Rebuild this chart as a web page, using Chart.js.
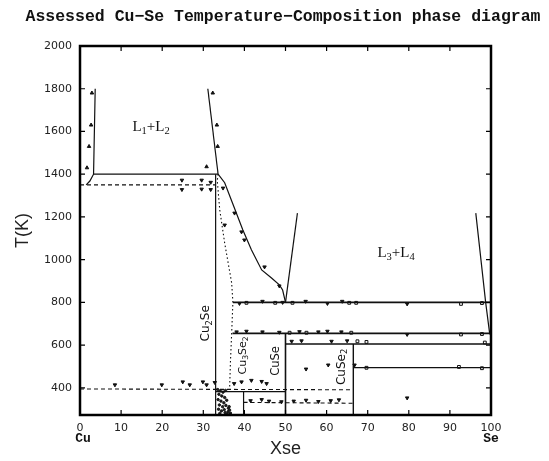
<!DOCTYPE html>
<html lang="en">
<head>
<meta charset="UTF-8">
<title>Assessed Cu-Se phase diagram</title>
<script src="https://cdn.jsdelivr.net/npm/chart.js"></script>
<style>
  html, body { margin: 0; padding: 0; background: #fff; }
</style>
</head>
<body>
<canvas id="chart" width="549" height="461"></canvas>
<script>
// axis ticks
const xTicks = [0, 10, 20, 30, 40, 50, 60, 70, 80, 90, 100];
const yTicks = [400, 600, 800, 1000, 1200, 1400, 1600, 1800, 2000];

// solid phase boundaries, [Xse (at.%), T (K)]
const l1Boundary = [[3.7, 1800], [3.3, 1400], [2.4, 1368], [1.5, 1350]];
const l2Boundary = [[31.1, 1800], [33.6, 1400]];
const monotectic = [[3.3, 1400], [33.6, 1400]];
const cu2seLine = [[33.0, 1400], [33.0, 273]];
const liquidus = [[33.6, 1400], [35.2, 1360], [37.1, 1265], [39.6, 1140], [41.7, 1046],
  [44.2, 952], [46.6, 914], [48.5, 882], [49.3, 858], [50.0, 800]];
const l3Boundary = [[50.0, 800], [52.9, 1218]];
const l4Boundary = [[96.3, 1218], [98.7, 800], [99.7, 650]];
const line800 = [[37.2, 800], [100, 800]];
const line655 = [[37.1, 655], [100, 655]];
const line605 = [[50, 605], [100, 605]];
const cuseLine = [[50, 655], [50, 273]];
const cuse2Line = [[66.5, 605], [66.5, 273]];
const line495 = [[66.5, 495], [100, 495]];
const line382 = [[33, 382], [50, 382]];
const cu3se2Line = [[39.8, 382], [39.8, 273]];

// dashed / dotted boundaries
const dashed1350 = [[0, 1350], [33, 1350]];
const dashed393 = [[0, 395], [66.5, 391]];
const dashed330 = [[39.8, 332], [66.5, 328]];
const dottedBoundary = [[33.6, 1400], [33.4, 1370], [34.0, 1233], [35.2, 1078], [36.9, 891],
  [37.2, 800], [36.9, 655], [36.6, 520], [36.4, 395]];

// experimental points
const upPoints = [[2.9, 1780], [2.7, 1630], [2.2, 1530], [1.7, 1430],
  [32.3, 1780], [33.3, 1630], [33.5, 1530], [30.8, 1435]];
const downPoints = [
  [24.8, 1372], [24.8, 1328], [29.6, 1372], [29.6, 1330], [31.8, 1362], [31.8, 1328],
  [34.8, 1335], [35.2, 1162], [37.6, 1218], [39.3, 1130], [40.0, 1092], [44.9, 966], [48.5, 877],
  [38.8, 795], [44.4, 805], [49.3, 800], [54.9, 805], [60.2, 795], [63.8, 805], [79.6, 793],
  [38.1, 662], [40.5, 665], [44.4, 662], [48.5, 660], [53.4, 663], [58, 662], [60.2, 665], [63.6, 662], [79.6, 650],
  [51.5, 618], [53.9, 620], [61.2, 618], [65, 620],
  [55, 488], [60.4, 507], [66.8, 507], [79.6, 353],
  [8.5, 414], [19.9, 414], [25, 428], [26.7, 414], [29.9, 428], [30.8, 414], [32.8, 425],
  [37.5, 420], [39.3, 428], [41.7, 435], [44.2, 430], [45.4, 420],
  [41.5, 340], [44.2, 345], [46, 338], [49, 335], [52, 338], [55, 342], [58, 336], [61, 340], [63, 344]
];
const squarePoints = [[40.5, 798], [47.5, 798], [51.7, 798], [65.5, 798], [67.2, 798], [92.7, 793], [97.8, 797],
  [51, 658], [55.1, 658], [66, 658], [92.7, 650], [97.8, 652], [67.5, 618], [69.7, 615], [98.5, 612],
  [69.7, 494], [92.2, 498], [97.8, 492]];
const speckle = [[33.5, 392], [34.1, 386], [34.8, 380], [35.4, 388], [33.8, 370], [34.5, 362], [35.2, 355],
  [33.6, 345], [34.3, 338], [35.0, 330], [35.7, 342], [33.9, 320], [34.7, 312], [35.5, 318], [36.1, 305],
  [36.4, 296], [36.0, 288], [36.6, 282], [35.8, 278], [34.4, 292], [33.7, 300], [35.1, 298], [36.3, 312],
  [34.0, 280], [35.3, 284], [36.5, 276]];

const phaseLabels = [
  { parts: [['L'], ['1', 1], ['+L'], ['2', 1]], x: 17.3, y: 1620, rot: 0, size: 15, family: '"Liberation Serif"' },
  { parts: [['L'], ['3', 1], ['+L'], ['4', 1]], x: 76.9, y: 1032, rot: 0, size: 15, family: '"Liberation Serif"' },
  { parts: [['Cu'], ['2', 1], ['Se']], x: 30.6, y: 702, rot: -Math.PI / 2, size: 12, family: '"DejaVu Sans"' },
  { parts: [['Cu'], ['3', 1], ['Se'], ['2', 1]], x: 39.6, y: 552, rot: -Math.PI / 2, size: 11, family: '"DejaVu Sans"' },
  { parts: [['CuSe']], x: 47.6, y: 526, rot: -Math.PI / 2, size: 11.5, family: '"DejaVu Sans"' },
  { parts: [['CuSe'], ['2', 1]], x: 63.6, y: 498, rot: -Math.PI / 2, size: 12, family: '"DejaVu Sans"' }
];

const chartTitle = 'Assessed Cu\u2212Se Temperature\u2212Composition phase diagram';

function toXY(arr) {
  return arr.map(p => ({ x: p[0], y: p[1] }));
}

function lineSet(arr, dash, width) {
  return {
    data: toXY(arr), showLine: true, pointRadius: 0, borderColor: '#111',
    borderWidth: width || 1.2, borderDash: dash || [], fill: false
  };
}

function pointSet(arr, style, rot, radius, bg) {
  return {
    data: toXY(arr), showLine: false, pointStyle: style, rotation: rot,
    pointRadius: radius, backgroundColor: bg, borderColor: '#111', borderWidth: 1
  };
}

function drawRich(ctx, parts, cx, cy, rot, size, family) {
  ctx.save();
  ctx.translate(cx, cy);
  ctx.rotate(rot);
  ctx.fillStyle = '#111';
  ctx.textBaseline = 'middle';
  ctx.textAlign = 'left';
  const sub = size * 0.7;
  let w = 0;
  parts.forEach(p => {
    ctx.font = (p[1] ? sub : size) + 'px ' + family;
    w += ctx.measureText(p[0]).width;
  });
  let pos = -w / 2;
  parts.forEach(p => {
    ctx.font = (p[1] ? sub : size) + 'px ' + family;
    ctx.fillText(p[0], pos, p[1] ? size * 0.3 : 0);
    pos += ctx.measureText(p[0]).width;
  });
  ctx.restore();
}

const framePlugin = {
  id: 'frame',
  afterDatasetsDraw(chart) {
    const { ctx, scales: { x, y } } = chart;
    phaseLabels.forEach(l => {
      drawRich(ctx, l.parts, x.getPixelForValue(l.x), y.getPixelForValue(l.y), l.rot, l.size, l.family);
    });
  },
  afterDraw(chart) {
    const { ctx, chartArea: a, scales: { x, y } } = chart;
    ctx.save();
    ctx.strokeStyle = '#000';
    ctx.lineWidth = 1.2;
    ctx.beginPath();
    xTicks.forEach(v => {
      const px = x.getPixelForValue(v);
      ctx.moveTo(px, a.bottom); ctx.lineTo(px, a.bottom - 5);
      ctx.moveTo(px, a.top); ctx.lineTo(px, a.top + 5);
    });
    yTicks.forEach(v => {
      const py = y.getPixelForValue(v);
      ctx.moveTo(a.left, py); ctx.lineTo(a.left + 5, py);
      ctx.moveTo(a.right, py); ctx.lineTo(a.right - 5, py);
    });
    ctx.stroke();
    ctx.lineWidth = 2.5;
    ctx.strokeRect(a.left, a.top, a.right - a.left, a.bottom - a.top);

    ctx.fillStyle = '#111';
    ctx.textAlign = 'center';
    ctx.textBaseline = 'middle';
    // title, stretched to the width it has in the reference
    ctx.font = 'bold 16px "Liberation Mono"';
    const tw = ctx.measureText(chartTitle).width;
    ctx.save();
    ctx.translate(283, 17);
    ctx.scale(515 / tw, 1);
    ctx.fillText(chartTitle, 0, 0);
    ctx.restore();

    // element labels under the axis ends
    ctx.font = 'bold 13px "Liberation Mono"';
    ctx.fillText('Cu', x.getPixelForValue(0) + 3, 439);
    ctx.fillText('Se', x.getPixelForValue(100), 439);
    ctx.restore();
  }
};

new Chart(document.getElementById('chart'), {
  type: 'scatter',
  data: {
    datasets: [
      lineSet(l1Boundary), lineSet(l2Boundary), lineSet(monotectic), lineSet(cu2seLine),
      lineSet(liquidus), lineSet(l3Boundary), lineSet(l4Boundary),
      lineSet(line800, null, 1.6), lineSet(line655, null, 1.6), lineSet(line605, null, 1.6),
      lineSet(cuseLine, null, 1.6), lineSet(cuse2Line, null, 1.4), lineSet(line495),
      lineSet(line382), lineSet(cu3se2Line),
      lineSet(dashed1350, [4, 3], 1.1), lineSet(dashed393, [4, 3], 1.1), lineSet(dashed330, [4, 3], 1.1),
      lineSet(dottedBoundary, [1.5, 2.5], 1.1),
      pointSet(upPoints, 'triangle', 0, 2, '#111'),
      pointSet(downPoints, 'triangle', 180, 2, '#111'),
      pointSet(squarePoints, 'rect', 0, 2, '#fff'),
      pointSet(speckle, 'circle', 0, 1.2, '#222')
    ]
  },
  options: {
    responsive: false,
    animation: false,
    layout: { padding: { left: 0, right: 58, top: 46, bottom: 0 } },
    plugins: {
      legend: { display: false },
      tooltip: { enabled: false },
      title: { display: false }
    },
    scales: {
      x: {
        type: 'linear', min: 0, max: 100,
        afterBuildTicks: s => { s.ticks = xTicks.map(v => ({ value: v })); },
        afterFit: s => { s.height = 46; },
        ticks: { padding: 7, color: '#222', font: { family: '"DejaVu Sans"', size: 11 }, callback: v => String(v) },
        grid: { display: false, drawTicks: false },
        border: { display: false },
        title: {
          display: true, text: 'Xse', color: '#222', padding: { top: 0, bottom: 1 },
          font: { family: '"Liberation Sans"', size: 18 }
        }
      },
      y: {
        type: 'linear', min: 273, max: 2000,
        afterBuildTicks: s => { s.ticks = yTicks.map(v => ({ value: v })); },
        afterFit: s => { s.width = 80; },
        ticks: { padding: 8, color: '#222', font: { family: '"DejaVu Sans"', size: 11 }, callback: v => String(v) },
        grid: { display: false, drawTicks: false },
        border: { display: false },
        title: {
          display: true, text: 'T(K)', color: '#222', padding: { top: 12, bottom: 0 },
          font: { family: '"Liberation Sans"', size: 18 }
        }
      }
    }
  },
  plugins: [framePlugin]
});
</script>
</body>
</html>
